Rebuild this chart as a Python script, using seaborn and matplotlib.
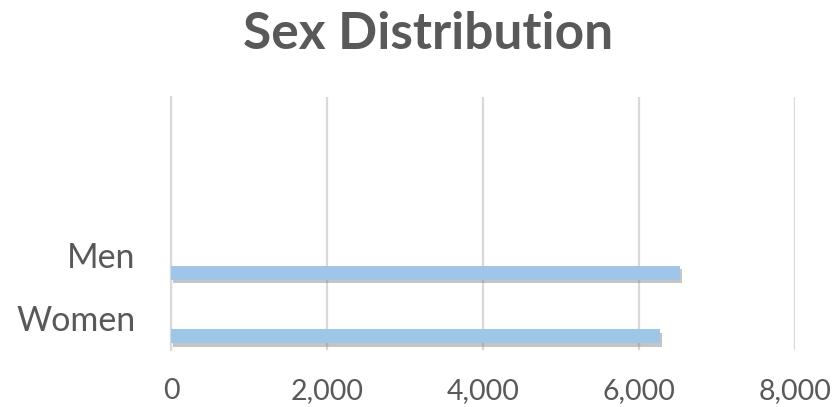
import matplotlib
matplotlib.use("Agg")
import matplotlib.pyplot as plt
import matplotlib.patheffects as pe
import seaborn as sns
import pandas as pd

# Data
categories = ["Women", "Men"]
counts = [6270, 6530]
x_ticks = [0, 2000, 4000, 6000, 8000]

sns.set_theme(style="white")
plt.rcParams["font.family"] = ["Lato", "DejaVu Sans"]

TEXT = "#595959"
GRID = "#d9d9d9"
BAR = "#9fc5e8"

# Category slots (Women bottom, Men above); bars sit just below each label
slot = list(range(len(categories)))
bar_pos = [s - 0.28 for s in slot]
df = pd.DataFrame({"count": counts, "pos": bar_pos, "cat": categories})

fig = plt.figure(figsize=(8.34, 4.07), dpi=100)
ax = fig.add_axes([0.2056, 0.140, 0.9532 - 0.2056, 0.7617 - 0.140])

sns.barplot(data=df, x="count", y="pos", orient="h", native_scale=True,
            width=0.22, color=BAR, saturation=1, ax=ax, zorder=3)
for p in ax.patches:
    p.set_edgecolor("none")
    p.set_path_effects([pe.SimplePatchShadow(offset=(1.0, -2.5), shadow_rgbFace="#7f7f7f", alpha=0.45),
                        pe.Normal()])

ax.set_xlim(0, 8000)
ax.set_ylim(-0.5, 3.5)
ax.set_xticks(x_ticks)
ax.set_xticklabels([f"{v:,}" for v in x_ticks])
ax.set_yticks(slot)
ax.set_yticklabels(categories)
ax.tick_params(axis="x", colors=TEXT, labelsize=20.5, length=0, pad=20)
ax.tick_params(axis="y", colors=TEXT, labelsize=24.5, length=0, pad=26)
ax.set_xlabel("")
ax.set_ylabel("")

ax.grid(axis="x", color=GRID, linewidth=1.6, zorder=0)
ax.grid(axis="y", visible=False)
for side in ["top", "right", "bottom"]:
    ax.spines[side].set_visible(False)
ax.spines["left"].set_color(GRID)
ax.spines["left"].set_linewidth(1.6)

fig.text(0.513, 0.915, "Sex Distribution", ha="center", va="center",
         fontsize=37, fontweight="bold", color=TEXT)

fig.savefig("out.png", dpi=100, facecolor="white")
